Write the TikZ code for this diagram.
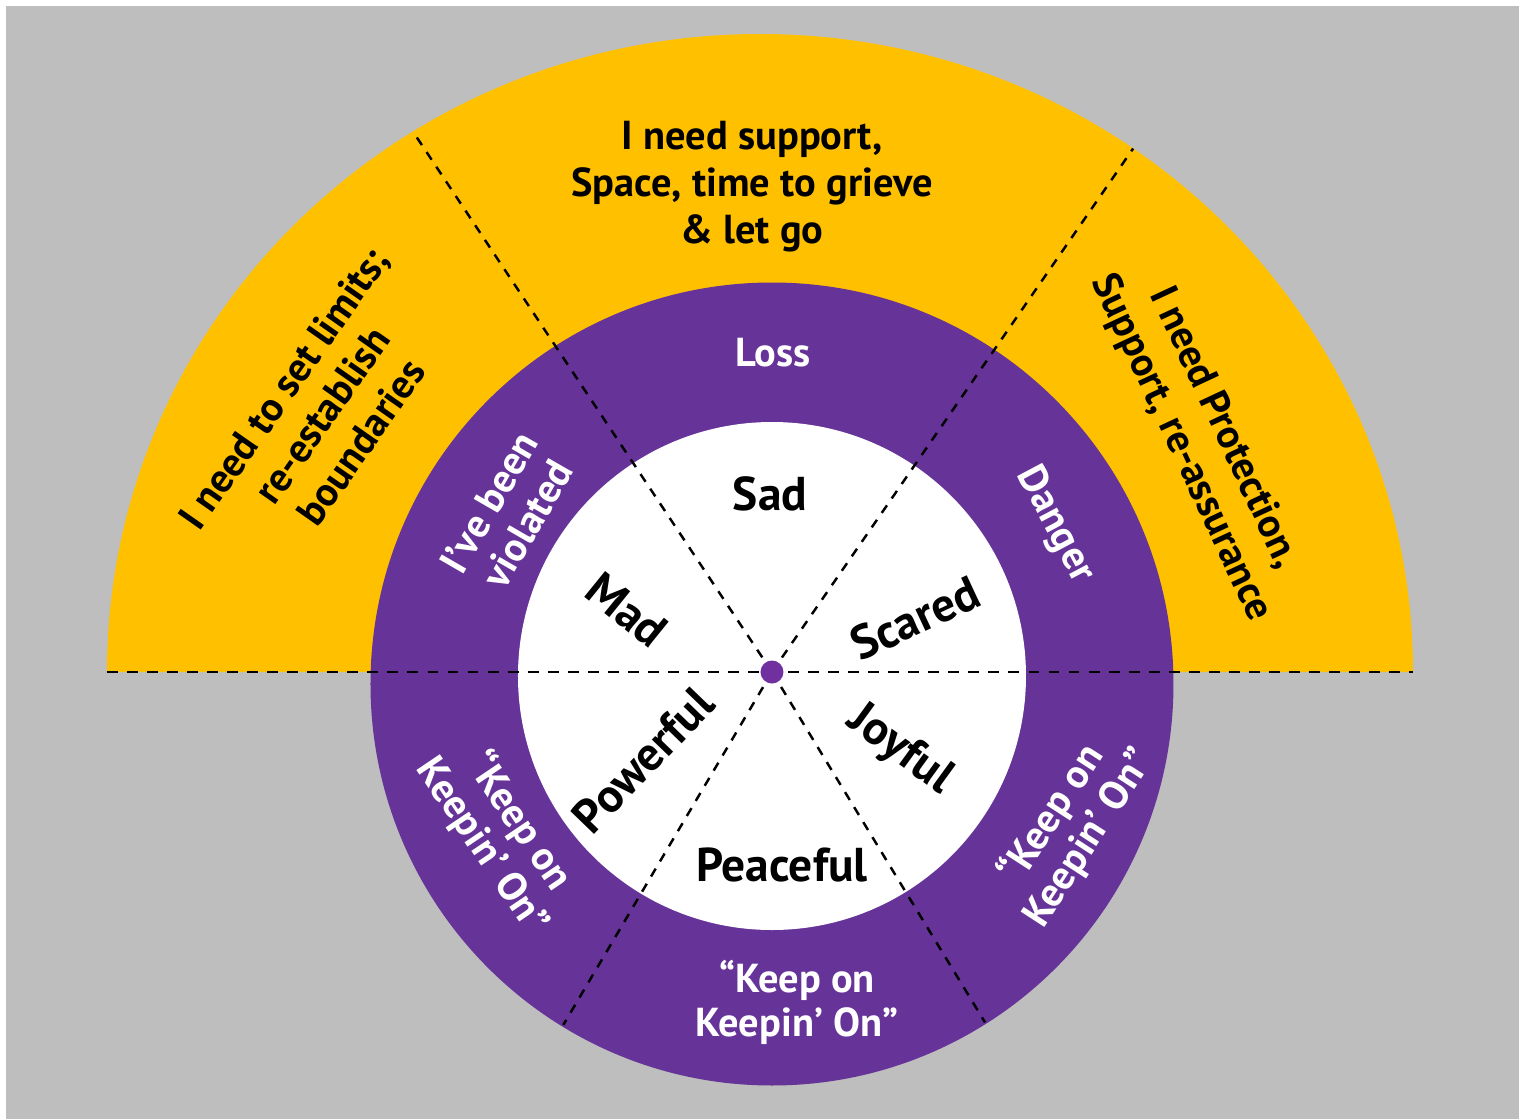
\documentclass[tikz,border=0pt]{standalone}
\usepackage{fontspec}
\setmainfont{PT Sans}
\usepackage{tikz}
\definecolor{bggray}{HTML}{BEBEBE}
\definecolor{needyellow}{HTML}{FFC000}
\definecolor{ringpurple}{HTML}{663399}
\definecolor{dotpurple}{HTML}{7030A0}

\begin{document}
\begin{tikzpicture}[
  needtext/.style={align=center,font=\bfseries\fontsize{11.5}{13.4}\selectfont},
  ringtext/.style={align=center,text=white,font=\bfseries\fontsize{11.5}{12.5}\selectfont},
  feeltext/.style={font=\bfseries\fontsize{13.5}{15}\selectfont},
  cutline/.style={line width=0.85pt,dash pattern=on 3.1pt off 2.6pt},
  spoke/.style={line width=0.7pt,dash pattern=on 2.6pt off 2.4pt}]
\useasboundingbox (-7.72,-4.47) rectangle (7.54,6.72);
\fill[white] (-7.72,-4.47) rectangle (7.54,6.72);
\fill[bggray] (-7.66,-4.47) rectangle (7.47,6.66);
\fill[needyellow] (-6.65,0) arc (180:0:6.53 and 6.38) -- cycle;
\fill[ringpurple] (0,-0.12) circle (4.015);
\fill[white] (0,-0.04) circle (2.54);
\coordinate (c) at (0,0);
\draw[cutline] (-6.65,0) -- (6.41,0);
\draw[spoke] (c) -- (123.6:6.48);
\draw[spoke] (c) -- (55.4:6.36);
\draw[spoke] (c) -- (239.4:4.1);
\draw[spoke] (c) -- (301.3:4.1);
\fill[dotpurple] (c) circle (0.115);
\node[needtext] (grieve) at (-0.20,4.85) {I need support,\\Space, time to grieve\\\& let go};
\node[needtext,rotate=55] (limits) at (-4.50,2.57) {I need to set limits;\\re-establish\\boundaries};
\node[needtext,rotate=-65] (protect) at (4.30,2.34) {I need Protection,\\Support, re-assurance};
\node[ringtext] (loss) at (0.01,3.19) {Loss};
\node[ringtext,rotate=60] (violated) at (-2.64,1.59) {I’ve been\\violated};
\node[ringtext,rotate=-62] (danger) at (2.83,1.47) {Danger};
\node[ringtext] (keepbot) at (0.25,-3.30) {“Keep on\\Keepin’ On”};
\node[ringtext,rotate=-56] (keepleft) at (-2.71,-1.62) {“Keep on\\Keepin’ On”};
\node[ringtext,rotate=57] (keepright) at (2.98,-1.54) {“Keep on\\Keepin’ On”};
\node[feeltext] (sad) at (-0.02,1.78) {Sad};
\node[feeltext,rotate=-39] (mad) at (-1.45,0.62) {Mad};
\node[feeltext,rotate=25] (scared) at (1.43,0.54) {Scared};
\node[feeltext,rotate=46] (powerful) at (-1.29,-0.88) {Powerful};
\node[feeltext,rotate=-36] (joyful) at (1.28,-0.78) {Joyful};
\node[feeltext] (peaceful) at (0.10,-1.93) {Peaceful};
\end{tikzpicture}
\end{document}
